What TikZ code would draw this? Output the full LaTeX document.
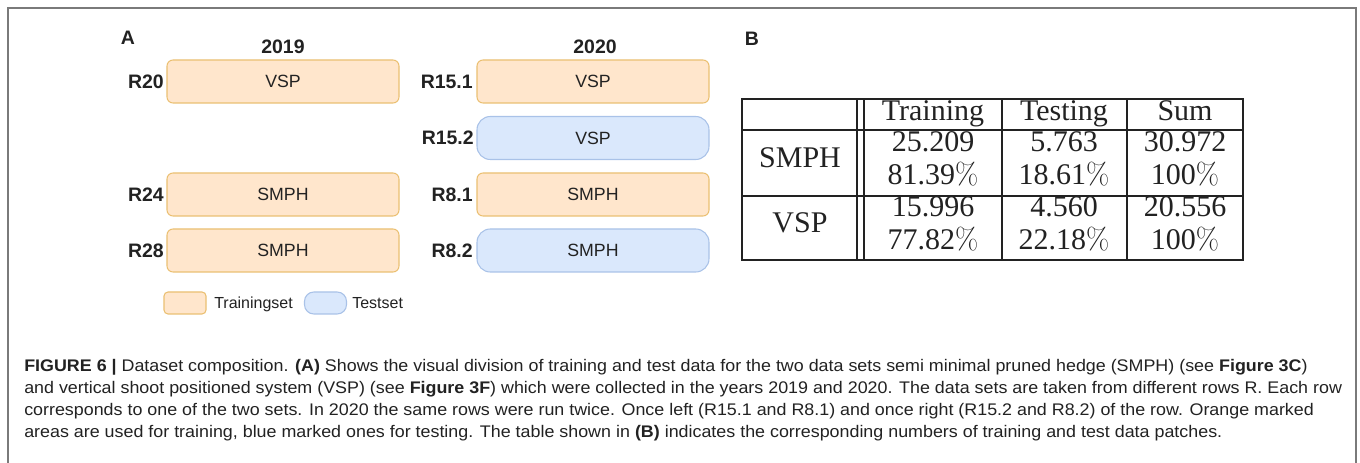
\documentclass[tikz,border=0pt]{standalone}
\usepackage{fontspec}
\newfontfamily\sansf{Liberation Sans}
\newfontfamily\capfont[FakeStretch=1.064]{Liberation Sans}
\newfontfamily\tabfont{Liberation Serif}
\definecolor{txt}{HTML}{222222}
\definecolor{ofill}{HTML}{FFE6CC}
\definecolor{ostroke}{HTML}{EBC072}
\definecolor{bfill}{HTML}{DAE8FC}
\definecolor{bstroke}{HTML}{A9C2E8}
\definecolor{framegray}{HTML}{7A7A7A}
\newcommand{\pct}{{\rmfamily\%}}
\begin{document}
\begin{tikzpicture}[x=0.75pt,y=-0.75pt,
  lbl/.style={font=\sansf\bfseries\fontsize{14.6}{16}\selectfont, text=txt, inner sep=0pt},
  obox/.style={draw=ostroke, fill=ofill, rounded corners=4.5pt, line width=0.8pt,
    minimum width=174pt, minimum height=32.25pt, inner sep=0pt,
    font=\sansf\fontsize{13.3}{15}\selectfont, text=txt},
  bbox/.style={obox, draw=bstroke, fill=bfill, rounded corners=10pt},
  lego/.style={obox, minimum width=31.5pt, minimum height=16.5pt, rounded corners=3pt},
  legb/.style={bbox, minimum width=31.5pt, minimum height=16.5pt, rounded corners=7pt},
  legt/.style={font=\sansf\fontsize{12}{14}\selectfont, text=txt, inner sep=0pt, anchor=base west},
  tab/.style={font=\tabfont\fontsize{22.5}{24}\selectfont, text=txt, inner sep=0pt, anchor=base},
  tline/.style={line width=1.1pt, draw=txt},
  captxt/.style={font=\capfont\fontsize{12.6}{16.3}\selectfont, text=txt, inner sep=0pt, anchor=base west, align=left}
]
\useasboundingbox (0,0) rectangle (1360,463);
\fill[white] (0,0) rectangle (1360,463);
% frame
\draw[framegray, line width=1.5pt] (8,470) -- (8,8) -- (1356,8) -- (1356,470);

% Panel A
\node[lbl, anchor=base] (A) at (128,45) {A};
\node[lbl, anchor=base] (y2019) at (283,54) {2019};
\node[lbl, anchor=base] (y2020) at (595,54) {2020};

\node[obox] (b20) at (283,81.5) {VSP};
\node[obox] (b24) at (283,194.5) {SMPH};
\node[obox] (b28) at (283,250.5) {SMPH};
\node[obox] (b151) at (593,81.5) {VSP};
\node[bbox] (b152) at (593,138) {VSP};
\node[obox] (b81) at (593,194.5) {SMPH};
\node[bbox] (b82) at (593,250.5) {SMPH};

\node[lbl, anchor=base east] (l20) at (164,88.5) {R20};
\node[lbl, anchor=base east] (l24) at (164,201.5) {R24};
\node[lbl, anchor=base east] (l28) at (164,257.5) {R28};
\node[lbl, anchor=base east] (l151) at (473,88.5) {R15.1};
\node[lbl, anchor=base east] (l152) at (474,145) {R15.2};
\node[lbl, anchor=base east] (l81) at (473,201.5) {R8.1};
\node[lbl, anchor=base east] (l82) at (473,257.5) {R8.2};

% legend
\node[lego] (lego) at (185,303) {};
\node[legt] (legot) at (214,309) {Trainingset};
\node[legb] (legb) at (325.5,303) {};
\node[legt] (legbt) at (352,309) {Testset};

% Panel B
\node[lbl, anchor=base] (B) at (752,46) {B};
\draw[tline] (742,99) rectangle (1243,260);
\draw[tline] (742,130) -- (1243,130);
\draw[tline] (742,196) -- (1243,196);
\draw[tline] (857,99) -- (857,260);
\draw[tline] (864,99) -- (864,260);
\draw[tline] (1002,99) -- (1002,260);
\draw[tline] (1127,99) -- (1127,260);

\node[tab] (hTr) at (933,121) {Training};
\node[tab] (hTe) at (1064,121) {Testing};
\node[tab] (hSu) at (1185,121) {Sum};
\node[tab] (rS) at (800,168) {SMPH};
\node[tab] (rV) at (800,233) {VSP};
\node[tab] (s1) at (933,152) {25.209};
\node[tab] (s2) at (933,185) {81.39\pct};
\node[tab] (s3) at (1064,152) {5.763};
\node[tab] (s4) at (1064,185) {18.61\pct};
\node[tab] (s5) at (1185,152) {30.972};
\node[tab] (s6) at (1185,185) {100\pct};
\node[tab] (v1) at (933,217) {15.996};
\node[tab] (v2) at (933,250) {77.82\pct};
\node[tab] (v3) at (1064,217) {4.560};
\node[tab] (v4) at (1064,250) {22.18\pct};
\node[tab] (v5) at (1185,217) {20.556};
\node[tab] (v6) at (1185,250) {100\pct};

% caption
\node[captxt] (caption) at (24,437) {\textbf{FIGURE 6 |} Dataset composition. \textbf{(A)} Shows the visual division of training and test data for the two data sets semi minimal pruned hedge (SMPH) (see \textbf{Figure 3C})\\
and vertical shoot positioned system (VSP) (see \textbf{Figure 3F}) which were collected in the years 2019 and 2020. The data sets are taken from different rows R. Each row\\
corresponds to one of the two sets. In 2020 the same rows were run twice. Once left (R15.1 and R8.1) and once right (R15.2 and R8.2) of the row. Orange marked\\
areas are used for training, blue marked ones for testing. The table shown in \textbf{(B)} indicates the corresponding numbers of training and test data patches.};
\end{tikzpicture}
\end{document}
